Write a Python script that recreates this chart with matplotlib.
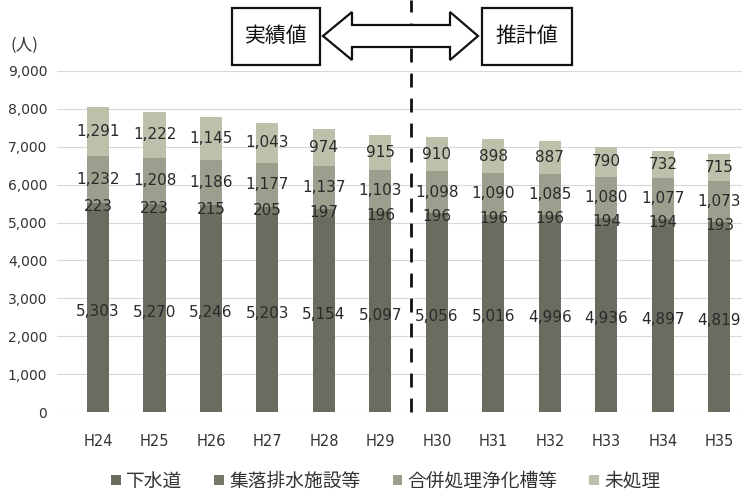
import numpy as np
import matplotlib
matplotlib.use('Agg')
import matplotlib.pyplot as plt
from matplotlib.patches import Rectangle, Polygon
from matplotlib.transforms import blended_transform_factory

plt.rcParams['font.family'] = ['Noto Sans CJK JP', 'DejaVu Sans']

# data
years = ['H24', 'H25', 'H26', 'H27', 'H28', 'H29',
         'H30', 'H31', 'H32', 'H33', 'H34', 'H35']
sewer = [5303, 5270, 5246, 5203, 5154, 5097, 5056, 5016, 4996, 4936, 4897, 4819]
village = [223, 223, 215, 205, 197, 196, 196, 196, 196, 194, 194, 193]
septic = [1232, 1208, 1186, 1177, 1137, 1103, 1098, 1090, 1085, 1080, 1077, 1073]
untreated = [1291, 1222, 1145, 1043, 974, 915, 910, 898, 887, 790, 732, 715]

series = [
    ('下水道', sewer, '#6a6c60'),
    ('集落排水施設等', village, '#76786a'),
    ('合併処理浄化槽等', septic, '#9d9f8e'),
    ('未処理', untreated, '#bec0ab'),
]

W, H = 743, 495
fig = plt.figure(figsize=(W / 100, H / 100), dpi=100)
ax = fig.add_axes([57 / W, (H - 412) / H, (742 - 57) / W, (412 - 71) / H])

num_font = 'DejaVu Sans'

x = np.arange(len(years))
bottom = np.zeros(len(years))
for name, vals, col in series:
    vals = np.array(vals, dtype=float)
    ax.bar(x, vals, bottom=bottom, width=0.39, color=col, label=name, zorder=2)
    for xi, b, v in zip(x, bottom, vals):
        ax.text(xi, b + v / 2, f'{int(v):,}', ha='center', va='center',
                fontsize=11, family=num_font, color='#2a2a2a', zorder=3)
    bottom += vals

ax.set_xlim(-0.726, 11.4)
ax.set_ylim(0, 9000)
ax.set_yticks(np.arange(0, 9001, 1000))
ax.set_yticklabels([f'{v:,}' for v in range(0, 9001, 1000)], fontsize=10,
                   family=num_font, color='#333333')
ax.set_xticks(x)
ax.set_xticklabels(years, fontsize=10.5, family=num_font, color='#333333')
ax.tick_params(axis='x', length=0, pad=16)
ax.tick_params(axis='y', length=0, pad=7)
ax.grid(axis='y', color='#d8d8d8', linewidth=0.8, zorder=0)
for s in ax.spines.values():
    s.set_visible(False)

# divider between actual and estimated
trans = blended_transform_factory(ax.transData, ax.transAxes)
ax.plot([5.54, 5.54], [0, 412 / (412 - 71)], transform=trans, color='#111111',
        linestyle=(0, (5, 4)), linewidth=2, clip_on=False, zorder=4)

fig.text(10 / W, 1 - 45 / H, '(人)', fontsize=12, color='#333333', va='center')


def fx(px):
    return px / W


def fy(py):
    return 1 - py / H


for x0, x1, label in [(232, 320, '実績値'), (482, 572, '推計値')]:
    fig.patches.append(Rectangle((fx(x0), fy(65)), fx(x1) - fx(x0), fy(8) - fy(65),
                                 transform=fig.transFigure, facecolor='white',
                                 edgecolor='#111111', linewidth=1.6, zorder=5))
    fig.text(fx((x0 + x1) / 2), fy(36), label, fontsize=15, ha='center', va='center',
             color='#111111', zorder=6)

arrow_px = [(323, 36), (352, 12), (352, 25), (450, 25), (450, 12), (478, 36),
            (450, 60), (450, 47), (352, 47), (352, 60)]
fig.patches.append(Polygon([(fx(a), fy(b)) for a, b in arrow_px], closed=True,
                           transform=fig.transFigure, facecolor='white',
                           edgecolor='#111111', linewidth=1.6, zorder=5))

handles, labels = ax.get_legend_handles_labels()
fig.legend(handles, labels, loc='center', bbox_to_anchor=(fx(386), fy(481)), ncol=4,
           frameon=False, fontsize=13.5, handlelength=0.5, handleheight=0.5,
           handletextpad=0.3, columnspacing=1.7, labelcolor='#333333')

fig.savefig('out.png', dpi=100, facecolor='white')
